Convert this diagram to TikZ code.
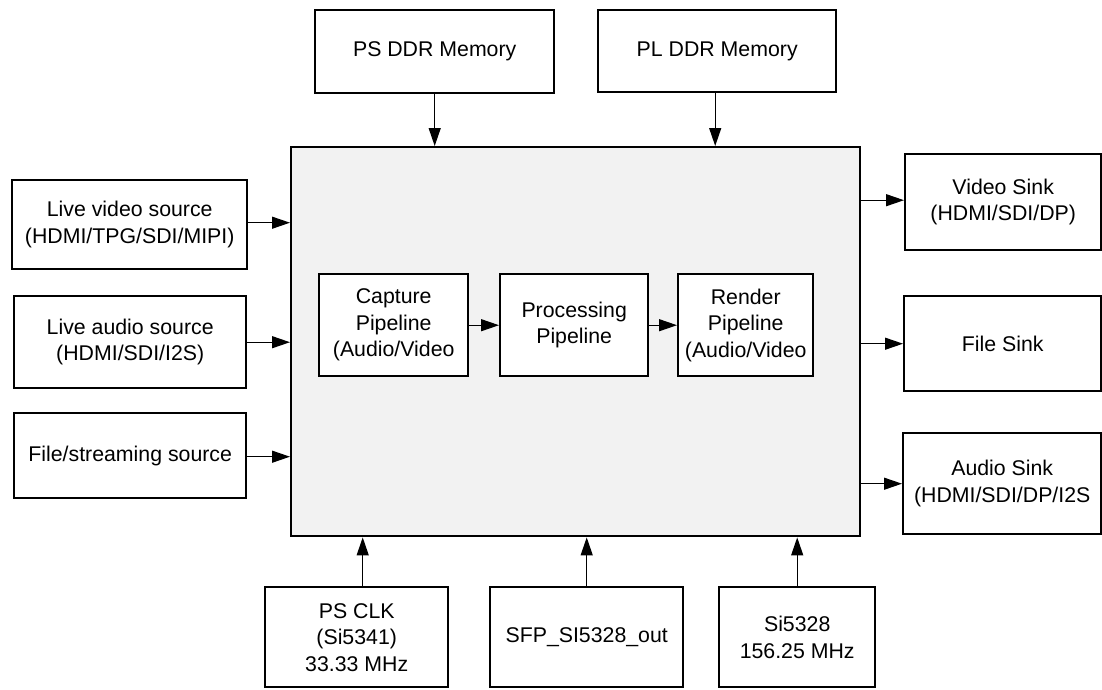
\documentclass[tikz,border=0pt]{standalone}
\usepackage{fontspec}
\setmainfont{Liberation Sans}
\usetikzlibrary{arrows.meta}
\definecolor{mainfill}{HTML}{F2F2F2}
\tikzset{
  box/.style={draw=black, line width=2.4pt, fill=white, anchor=north west,
    inner sep=0pt, align=center, font=\fontsize{21.3pt}{26.5pt}\selectfont},
  mainbox/.style={box, fill=mainfill},
  arr/.style={line width=1.2pt, -{Triangle[length=18pt,width=12pt]}},
}
\newcommand{\bx}[7]{% style, name, x1, y1, x2, y2, text
  \node[#1, minimum width=#5pt-#3pt, minimum height=#6pt-#4pt] (#2) at (#3,#4) {#7};}
\begin{document}
\begin{tikzpicture}[x=1pt,y=-1pt]
\useasboundingbox (0,0) rectangle (1102,689);
% main
\bx{mainbox}{main}{290}{146}{859}{535}{}
% inner pipeline
\bx{box}{cap}{318}{273}{467}{375}{Capture\\Pipeline\\(Audio/Video}
\bx{box}{proc}{499}{273}{647}{375}{Processing\\Pipeline}
\bx{box}{rend}{677}{273}{812}{375}{Render\\Pipeline\\(Audio/Video}
% top
\bx{box}{psddr}{314}{9}{553}{92}{PS DDR Memory}
\bx{box}{plddr}{597}{9}{835}{91}{PL DDR Memory}
% left
\bx{box}{lvid}{11}{179}{246}{268}{Live video source\\(HDMI/TPG/SDI/MIPI)}
\bx{box}{laud}{13}{295}{245}{387}{Live audio source\\(HDMI/SDI/I2S)}
\bx{box}{lfile}{13}{412}{245}{497}{File/streaming source}
% right
\bx{box}{vsink}{904}{153}{1100}{249}{Video Sink\\(HDMI/SDI/DP)}
\bx{box}{fsink}{903}{295}{1100}{390}{File Sink}
\bx{box}{asink}{902}{432}{1100}{533}{Audio Sink\\(HDMI/SDI/DP/I2S}
% bottom
\bx{box}{psclk}{264}{586}{447}{686}{PS CLK\\(Si5341)\\33.33 MHz}
\bx{box}{sfp}{489}{586}{682}{686}{SFP\_SI5328\_out}
\bx{box}{si}{718}{586}{874}{686}{Si5328\\156.25 MHz}
% arrows inner
\draw[arr] (cap.east) -- (proc.west);
\draw[arr] (proc.east) -- (rend.west);
% top arrows
\draw[arr] (psddr.south) -- (psddr.south |- main.north);
\draw[arr] ([xshift=-2pt]plddr.south) -- ([xshift=-2pt]plddr.south |- main.north);
% left arrows
\draw[arr] ([yshift=2pt]lvid.east) -- ([yshift=2pt]lvid.east -| main.west);
\draw[arr] (laud.east) -- (laud.east -| main.west);
\draw[arr] ([yshift=-1pt]lfile.east) -- ([yshift=-1pt]lfile.east -| main.west);
% right arrows
\draw[arr] ([yshift=2pt]vsink.west -| main.east) -- ([yshift=2pt]vsink.west);
\draw[arr] (fsink.west -| main.east) -- (fsink.west);
\draw[arr] (asink.west -| main.east) -- (asink.west);
% bottom arrows
\draw[arr] ([xshift=6pt]psclk.north) -- ([xshift=6pt]psclk.north |- main.south);
\draw[arr] (sfp.north) -- (sfp.north |- main.south);
\draw[arr] (si.north) -- (si.north |- main.south);
\end{tikzpicture}
\end{document}
